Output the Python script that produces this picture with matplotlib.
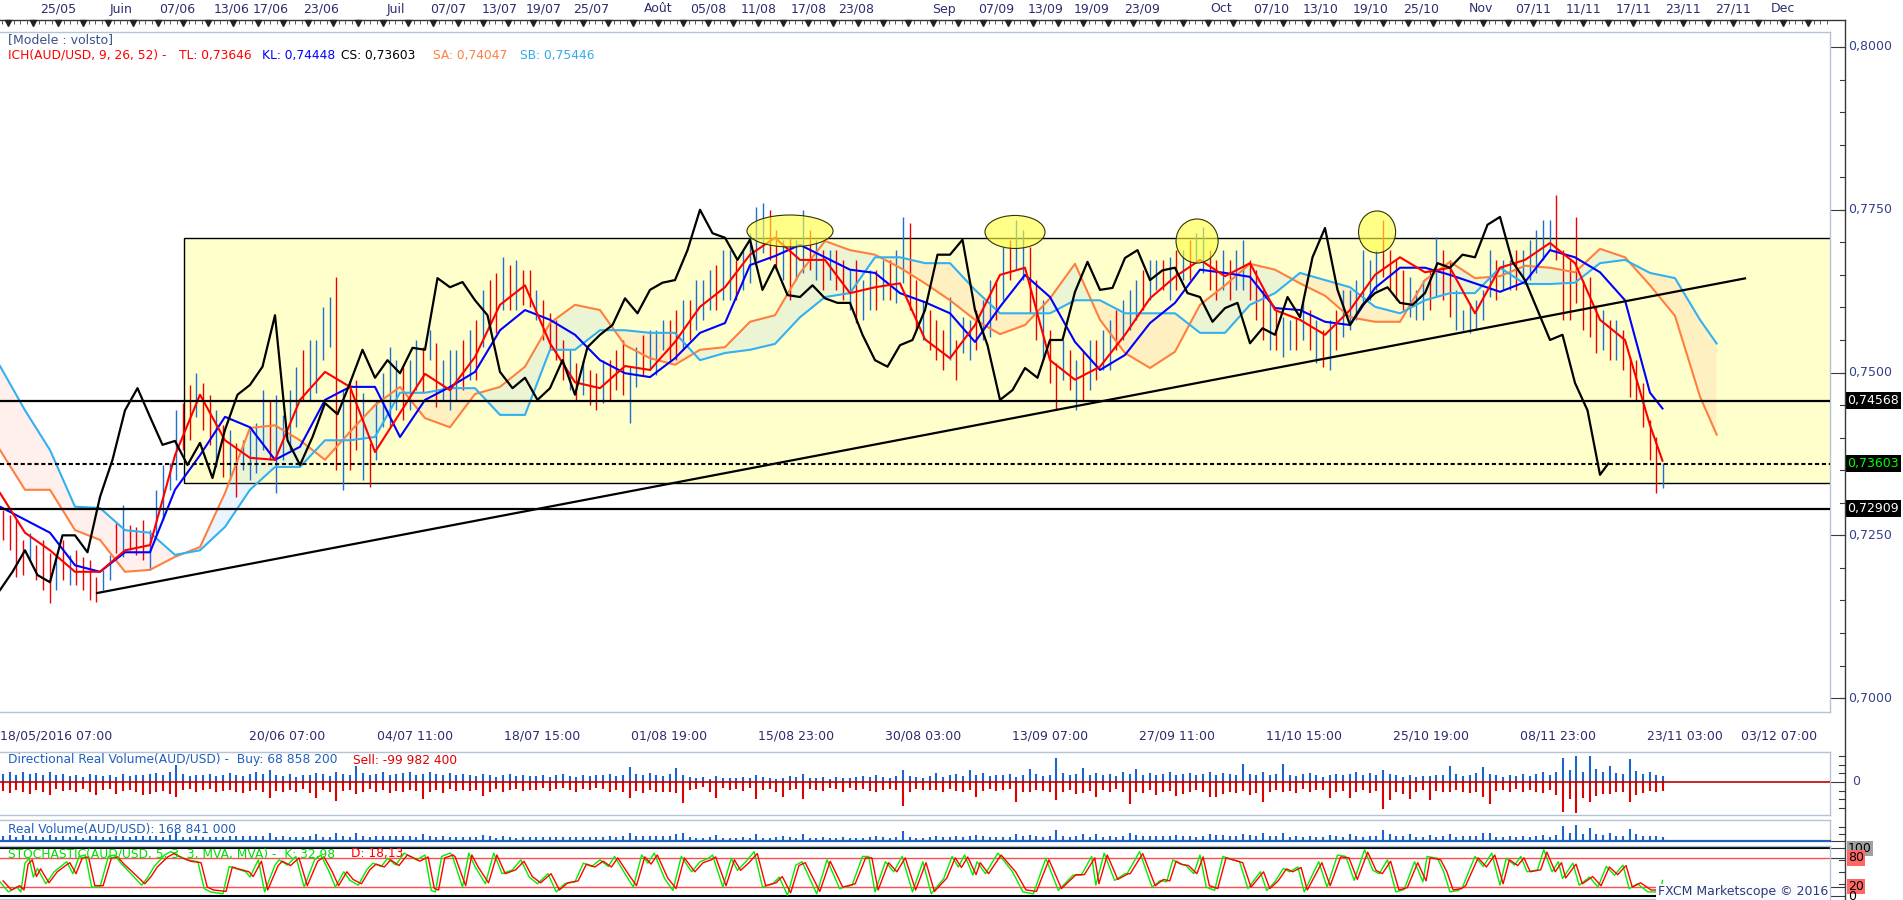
import numpy as np
import matplotlib
matplotlib.use("Agg")
import matplotlib.pyplot as plt
import matplotlib.transforms as mtransforms
from matplotlib.patches import Rectangle, Ellipse
from matplotlib.lines import Line2D
from matplotlib.collections import LineCollection

plt.rcParams['font.family'] = ['DejaVu Sans']

W, H = 1903, 900
PX_PER_BAR = 25.0 / 12.0          # one 4-hour bar on the time axis

# ------------------------------------------------------------------ data
LAST_BAR = 798                     # last 4h bar (23/11)
ICH_STEP = 12                      # sampling of Ichimoku lines (bars)
CS_STEP = 6                        # sampling of Chikou span (bars)

tenkan = [0.7315, 0.7254, 0.7227, 0.7194, 0.7194, 0.7227, 0.7235, 0.7373, 0.7466, 0.7396,
          0.7369, 0.7366, 0.7458, 0.7501, 0.7478, 0.7378, 0.7438, 0.7498, 0.7473, 0.7524,
          0.7604, 0.7634, 0.7545, 0.7485, 0.7476, 0.7510, 0.7504, 0.7547, 0.7601, 0.7631,
          0.7681, 0.7707, 0.7673, 0.7673, 0.7622, 0.7631, 0.7637, 0.7551, 0.7522, 0.7573,
          0.7650, 0.7661, 0.7519, 0.7489, 0.7509, 0.7558, 0.7614, 0.7647, 0.7673, 0.7648,
          0.7668, 0.7596, 0.7581, 0.7558, 0.7596, 0.7650, 0.7677, 0.7654, 0.7661, 0.7591,
          0.7661, 0.7673, 0.7699, 0.7668, 0.7581, 0.7550, 0.7419, 0.73646]

kijun = [0.7294, 0.7274, 0.7254, 0.7204, 0.7194, 0.7224, 0.7224, 0.7320, 0.7373, 0.7432,
         0.7416, 0.7366, 0.7386, 0.7458, 0.7478, 0.7478, 0.7401, 0.7458, 0.7478, 0.7501,
         0.7565, 0.7596, 0.7581, 0.7558, 0.7519, 0.7499, 0.7493, 0.7522, 0.7561, 0.7576,
         0.7665, 0.7679, 0.7696, 0.7677, 0.7658, 0.7653, 0.7622, 0.7608, 0.7591, 0.7547,
         0.7601, 0.7650, 0.7616, 0.7547, 0.7504, 0.7527, 0.7576, 0.7607, 0.7658, 0.7653,
         0.7647, 0.7599, 0.7596, 0.7578, 0.7573, 0.7630, 0.7661, 0.7661, 0.7650, 0.7637,
         0.7624, 0.7639, 0.7688, 0.7677, 0.7654, 0.7611, 0.7469, 0.74448]

senkou_a = [0.7381, 0.7320, 0.7320, 0.7258, 0.7243, 0.7194, 0.7197, 0.7217, 0.7232, 0.7315,
            0.7415, 0.7419, 0.7396, 0.7366, 0.7409, 0.7450, 0.7478, 0.7430, 0.7416, 0.7467,
            0.7478, 0.7509, 0.7576, 0.7604, 0.7596, 0.7542, 0.7522, 0.7512, 0.7535, 0.7539,
            0.7578, 0.7588, 0.7653, 0.7702, 0.7688, 0.7681, 0.7661, 0.7637, 0.7611, 0.7581,
            0.7559, 0.7573, 0.7614, 0.7667, 0.7581, 0.7530, 0.7507, 0.7532, 0.7604, 0.7634,
            0.7667, 0.7658, 0.7637, 0.7618, 0.7585, 0.7578, 0.7578, 0.7642, 0.7670, 0.7645,
            0.7648, 0.7664, 0.7661, 0.7654, 0.7690, 0.7677, 0.7634, 0.7587, 0.7463, 0.74047]

senkou_b = [0.7510, 0.7442, 0.7381, 0.7294, 0.7292, 0.7258, 0.7254, 0.7220, 0.7227, 0.7263,
            0.7320, 0.7355, 0.7355, 0.7396, 0.7396, 0.7401, 0.7469, 0.7469, 0.7476, 0.7476,
            0.7435, 0.7435, 0.7535, 0.7535, 0.7565, 0.7565, 0.7561, 0.7561, 0.7519, 0.7530,
            0.7535, 0.7544, 0.7585, 0.7616, 0.7622, 0.7677, 0.7677, 0.7668, 0.7668, 0.7627,
            0.7591, 0.7591, 0.7591, 0.7611, 0.7611, 0.7591, 0.7591, 0.7591, 0.7561, 0.7561,
            0.7604, 0.7622, 0.7653, 0.7642, 0.7631, 0.7601, 0.7591, 0.7611, 0.7622, 0.7622,
            0.7661, 0.7636, 0.7636, 0.7638, 0.7668, 0.7673, 0.7653, 0.7645, 0.7581, 0.75446]

chikou = [0.7166, 0.7194, 0.7227, 0.7189, 0.7178, 0.7250, 0.7250, 0.7224, 0.7309, 0.7366,
          0.7442, 0.7476, 0.7432, 0.7389, 0.7395, 0.7358, 0.7392, 0.7338, 0.7412, 0.7466,
          0.7481, 0.7509, 0.7588, 0.7396, 0.7358, 0.7401, 0.7453, 0.7436, 0.7484, 0.7535,
          0.7492, 0.7519, 0.7499, 0.7538, 0.7535, 0.7645, 0.7631, 0.7639, 0.7611, 0.7588,
          0.7501, 0.7476, 0.7492, 0.7458, 0.7476, 0.7519, 0.7466, 0.7539, 0.7558, 0.7573,
          0.7614, 0.7591, 0.7627, 0.7638, 0.7642, 0.7688, 0.7750, 0.7714, 0.7707, 0.7673,
          0.7704, 0.7627, 0.7665, 0.7619, 0.7616, 0.7634, 0.7614, 0.7607, 0.7607, 0.7558,
          0.7519, 0.7509, 0.7542, 0.7550, 0.7596, 0.7681, 0.7681, 0.7704, 0.7596, 0.7542,
          0.7458, 0.7473, 0.7507, 0.7492, 0.7550, 0.7550, 0.7624, 0.7670, 0.7627, 0.7630,
          0.7676, 0.7688, 0.7642, 0.7657, 0.7661, 0.7622, 0.7616, 0.7578, 0.7599, 0.7607,
          0.7545, 0.7568, 0.7558, 0.7616, 0.7585, 0.7677, 0.7722, 0.7627, 0.7573, 0.7604,
          0.7622, 0.7631, 0.7607, 0.7604, 0.7622, 0.7668, 0.7661, 0.7681, 0.7677, 0.7727,
          0.7739, 0.7670, 0.7642, 0.7596, 0.7550, 0.7558, 0.7484, 0.7442, 0.7343, 0.73603]

# candles (every ~3 bars): high, low, direction (b = up, r = down)
candle_high = [0.7289, 0.7281, 0.7274, 0.7243, 0.7254, 0.7235, 0.7243, 0.7223, 0.7220, 0.7243,
               0.7220, 0.7227, 0.7217, 0.7212, 0.7186, 0.7197, 0.7220, 0.7269, 0.7297, 0.7266,
               0.7263, 0.7274, 0.7258, 0.7320, 0.7358, 0.7361, 0.7442, 0.7453, 0.7481, 0.7499,
               0.7484, 0.7466, 0.7442, 0.7419, 0.7412, 0.7392, 0.7396, 0.7412, 0.7423, 0.7473,
               0.7458, 0.7466, 0.7435, 0.7473, 0.7509, 0.7535, 0.7550, 0.7550, 0.7601, 0.7616,
               0.7647, 0.7473, 0.7489, 0.7489, 0.7469, 0.7392, 0.7458, 0.7499, 0.7539, 0.7519,
               0.7509, 0.7519, 0.7550, 0.7539, 0.7565, 0.7545, 0.7519, 0.7535, 0.7535, 0.7550,
               0.7565, 0.7581, 0.7627, 0.7642, 0.7653, 0.7677, 0.7665, 0.7673, 0.7658, 0.7658,
               0.7627, 0.7611, 0.7591, 0.7581, 0.7550, 0.7535, 0.7515, 0.7519, 0.7504, 0.7499,
               0.7519, 0.7519, 0.7535, 0.7550, 0.7509, 0.7539, 0.7558, 0.7565, 0.7565, 0.7581,
               0.7581, 0.7596, 0.7611, 0.7611, 0.7642, 0.7642, 0.7658, 0.7665, 0.7688, 0.7688,
               0.7673, 0.7688, 0.7714, 0.7754, 0.7760, 0.7750, 0.7719, 0.7704, 0.7708, 0.7704,
               0.7750, 0.7719, 0.7704, 0.7688, 0.7688, 0.7688, 0.7673, 0.7658, 0.7673, 0.7642,
               0.7658, 0.7658, 0.7673, 0.7673, 0.7688, 0.7739, 0.7730, 0.7642, 0.7611, 0.7596,
               0.7581, 0.7565, 0.7616, 0.7550, 0.7585, 0.7581, 0.7596, 0.7611, 0.7642, 0.7642,
               0.7693, 0.7704, 0.7734, 0.7719, 0.7693, 0.7642, 0.7611, 0.7565, 0.7515, 0.7550,
               0.7535, 0.7519, 0.7535, 0.7550, 0.7550, 0.7565, 0.7581, 0.7596, 0.7611, 0.7627,
               0.7642, 0.7658, 0.7673, 0.7673, 0.7673, 0.7677, 0.7688, 0.7688, 0.7704, 0.7714,
               0.7723, 0.7688, 0.7673, 0.7688, 0.7673, 0.7688, 0.7704, 0.7673, 0.7658, 0.7627,
               0.7611, 0.7596, 0.7585, 0.7581, 0.7585, 0.7611, 0.7596, 0.7581, 0.7565, 0.7581,
               0.7596, 0.7627, 0.7627, 0.7642, 0.7688, 0.7673, 0.7688, 0.7734, 0.7688, 0.7673,
               0.7658, 0.7647, 0.7627, 0.7642, 0.7658, 0.7708, 0.7688, 0.7673, 0.7627, 0.7596,
               0.7607, 0.7611, 0.7627, 0.7688, 0.7673, 0.7673, 0.7673, 0.7688, 0.7688, 0.7704,
               0.7719, 0.7734, 0.7734, 0.7773, 0.7688, 0.7673, 0.7739, 0.7642, 0.7647, 0.7601,
               0.7596, 0.7581, 0.7581, 0.7565, 0.7524, 0.7519, 0.7484, 0.7427, 0.7401, 0.7361]

candle_low = [0.7243, 0.7227, 0.7186, 0.7189, 0.7212, 0.7181, 0.7166, 0.7146, 0.7166, 0.7181,
              0.7174, 0.7174, 0.7166, 0.7151, 0.7148, 0.7166, 0.7181, 0.7223, 0.7217, 0.7227,
              0.7220, 0.7212, 0.7197, 0.7250, 0.7274, 0.7320, 0.7335, 0.7381, 0.7396, 0.7432,
              0.7412, 0.7389, 0.7355, 0.7340, 0.7335, 0.7309, 0.7350, 0.7335, 0.7346, 0.7381,
              0.7366, 0.7315, 0.7366, 0.7381, 0.7416, 0.7458, 0.7458, 0.7469, 0.7519, 0.7539,
              0.7350, 0.7320, 0.7350, 0.7381, 0.7335, 0.7324, 0.7366, 0.7416, 0.7416, 0.7442,
              0.7427, 0.7442, 0.7473, 0.7469, 0.7519, 0.7447, 0.7458, 0.7442, 0.7458, 0.7473,
              0.7489, 0.7489, 0.7539, 0.7565, 0.7561, 0.7596, 0.7596, 0.7596, 0.7604, 0.7601,
              0.7581, 0.7550, 0.7535, 0.7519, 0.7489, 0.7473, 0.7458, 0.7466, 0.7450, 0.7442,
              0.7453, 0.7458, 0.7473, 0.7466, 0.7422, 0.7478, 0.7496, 0.7504, 0.7496, 0.7535,
              0.7519, 0.7519, 0.7535, 0.7550, 0.7565, 0.7581, 0.7596, 0.7596, 0.7611, 0.7611,
              0.7611, 0.7627, 0.7637, 0.7673, 0.7684, 0.7673, 0.7658, 0.7642, 0.7611, 0.7642,
              0.7653, 0.7658, 0.7642, 0.7627, 0.7642, 0.7627, 0.7611, 0.7596, 0.7576, 0.7581,
              0.7596, 0.7596, 0.7611, 0.7611, 0.7607, 0.7637, 0.7596, 0.7565, 0.7550, 0.7535,
              0.7519, 0.7504, 0.7519, 0.7489, 0.7530, 0.7519, 0.7535, 0.7550, 0.7554, 0.7581,
              0.7611, 0.7642, 0.7658, 0.7642, 0.7591, 0.7550, 0.7519, 0.7484, 0.7442, 0.7489,
              0.7473, 0.7442, 0.7458, 0.7473, 0.7489, 0.7504, 0.7504, 0.7535, 0.7550, 0.7565,
              0.7581, 0.7596, 0.7611, 0.7627, 0.7627, 0.7611, 0.7627, 0.7642, 0.7642, 0.7668,
              0.7653, 0.7627, 0.7611, 0.7627, 0.7611, 0.7627, 0.7627, 0.7611, 0.7581, 0.7550,
              0.7535, 0.7535, 0.7524, 0.7535, 0.7535, 0.7550, 0.7535, 0.7515, 0.7509, 0.7504,
              0.7535, 0.7554, 0.7565, 0.7581, 0.7607, 0.7611, 0.7627, 0.7647, 0.7627, 0.7611,
              0.7596, 0.7585, 0.7581, 0.7581, 0.7596, 0.7616, 0.7611, 0.7585, 0.7565, 0.7565,
              0.7561, 0.7565, 0.7581, 0.7616, 0.7611, 0.7627, 0.7627, 0.7627, 0.7642, 0.7642,
              0.7653, 0.7673, 0.7688, 0.7673, 0.7581, 0.7581, 0.7607, 0.7565, 0.7554, 0.7530,
              0.7535, 0.7519, 0.7519, 0.7504, 0.7463, 0.7458, 0.7416, 0.7366, 0.7315, 0.7323]

candle_dir = ("rrrrbrrrbr" "brrrrbbrbr" "rrbbbbbrrb" "rrbrbrbbbb" "rbbbbrbbbb"
              "rbrrbrbbbb" "rbbrbrbbbr" "brbrrbrbrr" "brrrrbrbrr" "brrrbbrbbb"
              "rrbrbbbrbb" "rbbbbrrbrb" "brbrbrrbrb" "brbrbbrrbr" "rrbrbbrbbr"
              "brbbrrbrrb" "rbrbrbbrbb" "brbbrbrbrb" "brrbrbbrrr" "brbbrbrbrb"
              "rbbbbbbrrr" "rbbbrbrrbb" "bbbbrbbrbb" "bbbrrrrrrr" "brbrrrrrrb")

# directional real volume (millions): buy and sell per candle
vol_buy = [95, 110, 80, 120, 90, 100, 75, 115, 85, 95,
           70, 85, 60, 90, 75, 65, 80, 55, 95, 70,
           85, 75, 90, 100, 80, 110, 195, 90, 70, 85,
           75, 90, 65, 80, 100, 85, 70, 95, 110, 90,
           140, 80, 70, 95, 60, 85, 75, 105, 90, 70,
           115, 90, 80, 185, 100, 75, 90, 110, 80, 95,
           100, 120, 85, 90, 110, 95, 80, 100, 75, 90,
           80, 70, 95, 85, 60, 75, 90, 65, 80, 70,
           70, 85, 60, 75, 90, 65, 55, 80, 70, 85,
           80, 95, 70, 85, 170, 90, 75, 100, 85, 70,
           90, 160, 80, 60, 45, 55, 40, 65, 50, 45,
           50, 60, 45, 80, 55, 50, 40, 45, 70, 55,
           90, 50, 45, 55, 40, 60, 50, 45, 55, 65,
           55, 80, 60, 45, 70, 140, 65, 55, 50, 70,
           105, 60, 75, 90, 65, 140, 80, 100, 70, 85,
           75, 90, 60, 80, 150, 95, 70, 85, 275, 100,
           85, 90, 160, 75, 100, 80, 95, 70, 110, 90,
           150, 85, 100, 75, 95, 110, 80, 90, 105, 85,
           90, 115, 80, 100, 95, 85, 205, 90, 75, 110,
           80, 95, 205, 85, 70, 90, 100, 75, 60, 85,
           95, 75, 90, 115, 80, 100, 85, 140, 90, 75,
           60, 80, 55, 70, 65, 85, 75, 185, 90, 70,
           85, 100, 170, 90, 75, 60, 80, 70, 95, 65,
           90, 110, 80, 120, 275, 140, 300, 110, 300, 150,
           120, 185, 100, 95, 265, 130, 90, 110, 85, 68.9]

vol_sell = [100, 130, 90, 120, 140, 95, 110, 150, 85, 105,
            90, 120, 80, 110, 150, 95, 85, 140, 100, 90,
            110, 150, 135, 120, 100, 140, 175, 95, 85, 110,
            90, 80, 120, 105, 95, 115, 130, 100, 90, 120,
            185, 100, 120, 90, 110, 80, 130, 185, 95, 115,
            220, 100, 90, 140, 120, 85, 110, 95, 130, 100,
            110, 95, 100, 195, 115, 90, 125, 85, 100, 95,
            100, 90, 160, 110, 85, 120, 90, 80, 105, 95,
            90, 75, 100, 85, 70, 95, 110, 80, 90, 75,
            85, 110, 95, 120, 185, 100, 130, 95, 110, 120,
            120, 130, 240, 95, 80, 60, 110, 185, 75, 90,
            85, 100, 70, 195, 90, 80, 120, 175, 95, 85,
            195, 80, 90, 100, 70, 85, 110, 75, 90, 80,
            100, 115, 90, 85, 95, 275, 110, 80, 95, 90,
            95, 110, 80, 100, 120, 90, 175, 105, 85, 100,
            90, 85, 230, 110, 115, 95, 100, 120, 205, 110,
            95, 140, 130, 100, 175, 90, 110, 85, 120, 250,
            110, 130, 95, 150, 120, 100, 165, 140, 110, 95,
            120, 170, 175, 140, 110, 125, 105, 150, 130, 230,
            110, 95, 120, 100, 130, 85, 110, 90, 95, 185,
            120, 100, 185, 110, 95, 130, 105, 310, 205, 120,
            140, 195, 110, 90, 205, 100, 120, 110, 95, 120,
            130, 110, 170, 250, 100, 95, 120, 85, 110, 90,
            115, 130, 95, 150, 345, 200, 355, 180, 230, 160,
            140, 140, 120, 110, 230, 150, 130, 100, 115, 100.0]

# stochastic: bar index, %K, %D (the %D line trails %K by ~1.5 bars)
STOCH_D_LAG = 1.5
stoch_bar = [0, 4, 8, 10, 12, 14, 16, 18, 22, 26,
             30, 32, 35, 38, 41, 44, 48, 52, 55, 58,
             62, 68, 71, 74, 79, 82, 86, 90, 95, 98,
             101, 107, 110, 113, 118, 120, 124, 127, 132, 134,
             138, 142, 146, 151, 154, 158, 161, 165, 168, 172,
             176, 179, 183, 186, 190, 194, 197, 200, 204, 207,
             209, 212, 216, 217, 222, 225, 228, 233, 237, 241,
             246, 250, 254, 258, 263, 267, 271, 276, 280, 284,
             288, 292, 295, 300, 304, 308, 311, 314, 319, 323,
             327, 332, 336, 340, 342, 347, 351, 354, 358, 362,
             366, 371, 374, 378, 382, 385, 392, 397, 403, 409,
             414, 417, 420, 425, 429, 433, 438, 443, 447, 453,
             457, 460, 463, 467, 469, 473, 479, 486, 491, 496,
             502, 508, 515, 519, 524, 526, 530, 535, 540, 541,
             547, 553, 557, 560, 563, 566, 569, 573, 576, 579,
             583, 587, 595, 599, 605, 608, 612, 616, 619, 623,
             626, 633, 637, 642, 646, 650, 655, 659, 662, 666,
             670, 674, 679, 683, 685, 690, 693, 696, 700, 702,
             708, 712, 716, 720, 723, 727, 730, 733, 738, 741,
             745, 748, 750, 755, 758, 763, 767, 771, 775, 779,
             782, 786, 791, 797, 798]
stoch_k = [30, 9, 19, 9, 69, 79, 40, 58, 26, 51,
           65, 72, 47, 83, 86, 19, 19, 83, 86, 69,
           51, 23, 40, 62, 86, 93, 83, 76, 72, 16,
           9, 5, 62, 58, 51, 40, 76, 9, 65, 76,
           65, 83, 19, 76, 86, 51, 19, 51, 33, 23,
           55, 69, 62, 79, 65, 90, 83, 76, 86, 12,
           9, 83, 90, 86, 19, 90, 62, 26, 90, 47,
           55, 76, 40, 26, 47, 9, 26, 30, 69, 62,
           76, 62, 83, 47, 19, 86, 69, 90, 37, 12,
           83, 51, 72, 79, 86, 19, 79, 54, 72, 93,
           19, 26, 40, 2, 65, 72, 5, 76, 16, 23,
           83, 83, 9, 72, 51, 83, 9, 72, 5, 37,
           83, 61, 86, 44, 72, 47, 90, 51, 9, 5,
           79, 12, 44, 44, 83, 23, 90, 33, 47, 47,
           93, 19, 33, 30, 76, 68, 65, 47, 86, 19,
           12, 83, 72, 16, 51, 12, 30, 58, 51, 61,
           9, 72, 19, 86, 83, 33, 97, 54, 47, 76,
           9, 14, 72, 30, 83, 79, 51, 9, 12, 19,
           83, 62, 90, 23, 79, 65, 83, 51, 55, 97,
           51, 72, 37, 69, 23, 40, 19, 62, 44, 65,
           16, 26, 9, 9, 32.98]
stoch_d = [32, 13, 22, 13, 67, 76, 41, 57, 28, 51,
           64, 70, 47, 80, 82, 22, 22, 80, 82, 67,
           51, 26, 41, 61, 82, 89, 80, 73, 70, 19,
           13, 10, 61, 57, 51, 41, 73, 13, 64, 73,
           64, 80, 22, 73, 82, 51, 22, 51, 35, 26,
           55, 67, 61, 76, 64, 86, 80, 73, 82, 16,
           13, 80, 86, 82, 22, 86, 61, 28, 86, 47,
           55, 73, 41, 28, 47, 13, 28, 32, 67, 61,
           73, 61, 80, 47, 22, 82, 67, 86, 38, 16,
           80, 51, 70, 76, 82, 22, 76, 54, 70, 89,
           22, 28, 41, 7, 64, 70, 10, 73, 19, 26,
           80, 80, 13, 70, 51, 80, 13, 70, 10, 38,
           80, 60, 82, 45, 70, 47, 86, 51, 13, 10,
           76, 16, 45, 45, 80, 26, 86, 35, 47, 47,
           89, 22, 35, 32, 73, 66, 64, 47, 82, 22,
           16, 80, 70, 19, 51, 16, 32, 57, 51, 60,
           13, 70, 22, 82, 80, 35, 92, 54, 47, 73,
           13, 18, 70, 32, 80, 76, 51, 13, 16, 22,
           80, 61, 86, 26, 76, 64, 80, 51, 55, 92,
           51, 70, 38, 67, 26, 41, 22, 61, 45, 64,
           19, 28, 13, 13, 18.13]

# drawn annotations (bar index, price)
box_left, box_top, box_bottom = 88.3, 0.77059, 0.73304
h_lines = [0.74568, 0.72909]
close_line = 0.73603
trend_start = (46.6, 0.71614)
trend_end = (837.6, 0.76446)
ellipses = [(379.2, 0.77174, 41.3, 0.00491),
            (487.2, 0.77159, 28.8, 0.00507),
            (574.6, 0.77020, 20.2, 0.00676),
            (661.0, 0.77159, 17.8, 0.00645)]

top_labels = ['25/05', 'Juin', '07/06', '13/06', '17/06', '23/06', 'Juil', '07/07', '13/07',
              '19/07', '25/07', 'Août', '05/08', '11/08', '17/08', '23/08', 'Sep', '07/09',
              '13/09', '19/09', '23/09', 'Oct', '07/10', '13/10', '19/10', '25/10', 'Nov',
              '07/11', '11/11', '17/11', '23/11', '27/11', 'Dec']
top_label_bars = [28, 58, 85, 111, 130, 154, 190, 215, 240, 261, 284, 316, 340, 364, 388,
                  411, 453, 478, 502, 524, 548, 586, 610, 634, 658, 682, 711, 736, 760, 784,
                  808, 832, 856]
bottom_labels = ['18/05/2016 07:00', '20/06 07:00', '04/07 11:00', '18/07 15:00',
                 '01/08 19:00', '15/08 23:00', '30/08 03:00', '13/09 07:00', '27/09 11:00',
                 '11/10 15:00', '25/10 19:00', '08/11 23:00', '23/11 03:00', '03/12 07:00']
bottom_label_bars = [0, 138, 199, 260, 321, 382, 443, 504, 565, 626, 687, 748, 809, 854]

# ------------------------------------------------------------------ figure
FS = 9.0
fig = plt.figure(figsize=(W / 100, H / 100), dpi=100)
fig.patch.set_facecolor('white')
pix = mtransforms.Affine2D().scale(1.0 / W, -1.0 / H).translate(0, 1) + fig.transFigure

XMAX = 1830 / PX_PER_BAR
PANEL_R = 1830
AXIS_X = 1845
FRAME = '#B4C3D6'
AXTXT = '#34408A'


def make_ax(top, bottom):
    a = fig.add_axes([0, 1 - bottom / H, PANEL_R / W, (bottom - top) / H])
    a.set_xlim(0, XMAX)
    a.set_autoscale_on(False)
    a.set_xticks([])
    a.set_yticks([])
    a.set_facecolor('white')
    for s in a.spines.values():
        s.set_color(FRAME)
        s.set_linewidth(1.0)
    a.spines['left'].set_visible(False)
    return a


ax = make_ax(32, 712)
ax.set_ylim(0.69787, 0.80230)
axd = make_ax(752, 815)
axd.set_ylim(-380, 345)
axr = make_ax(820, 841)
axr.set_ylim(0, 880)
axs = make_ax(846, 899)
axs.set_ylim(-5.8, 104.8)

# ---------------- main panel
ich_x = np.r_[np.arange(len(tenkan) - 1) * ICH_STEP, LAST_BAR]
sen_x = np.r_[np.arange(len(senkou_a) - 1) * ICH_STEP, LAST_BAR + 26]
cs_x = np.r_[np.arange(len(chikou) - 1) * CS_STEP, LAST_BAR - 26]
candle_x = 1.44 + 3.2 * np.arange(len(candle_high))

ax.add_patch(Rectangle((box_left, box_bottom), XMAX + 5 - box_left, box_top - box_bottom,
                       facecolor='#FFFFCC', edgecolor='black', lw=1.0, zorder=0.5))

sa = np.array(senkou_a)
sb = np.array(senkou_b)
ax.fill_between(sen_x, sa, sb, where=sa >= sb, interpolate=True,
                color='#8EC8FF', alpha=0.17, lw=0, zorder=1)
ax.fill_between(sen_x, sa, sb, where=sa < sb, interpolate=True,
                color='#FF9E8A', alpha=0.15, lw=0, zorder=1)

ccol = ['#1E6FD0' if c == 'b' else '#EE0000' for c in candle_dir]
ax.vlines(candle_x, candle_low, candle_high, colors=ccol, lw=1.0, zorder=2)

ax.plot(sen_x, senkou_a, color='#FF7F3F', lw=1.5, zorder=4)
ax.plot(sen_x, senkou_b, color='#33B0F0', lw=1.5, zorder=4)
ax.plot(ich_x, kijun, color='#0000FF', lw=1.5, zorder=4)
ax.plot(ich_x, tenkan, color='#FF0000', lw=1.5, zorder=4)
ax.plot(cs_x, chikou, color='black', lw=1.6, zorder=4)

for v in h_lines:
    ax.axhline(v, color='black', lw=1.6, zorder=5)
ax.axhline(close_line, color='black', lw=1.5, linestyle=(0, (2.0, 1.3)), zorder=5)
ax.plot([trend_start[0], trend_end[0]], [trend_start[1], trend_end[1]],
        color='black', lw=1.6, zorder=5)
for cx, cy, ew, eh in ellipses:
    ax.add_patch(Ellipse((cx, cy), ew, eh, facecolor=(1, 1, 0.25, 0.62),
                         edgecolor='#333300', lw=0.8, zorder=6))

# legend texts
fig.text(8, 40, '[Modele : volsto]', transform=pix, color='#3B4F8A', fontsize=FS, va='center')
for x, s, c in [(8, 'ICH(AUD/USD, 9, 26, 52) -', '#FF0000'), (179, 'TL: 0,73646', '#FF0000'),
                (262, 'KL: 0,74448', '#0000FF'), (341, 'CS: 0,73603', 'black'),
                (433, 'SA: 0,74047', '#FF7F3F'), (520, 'SB: 0,75446', '#33AAEE')]:
    fig.text(x, 55, s, transform=pix, color=c, fontsize=8.8, va='center')

# ---------------- top date strip
bx = mtransforms.blended_transform_factory(ax.transData, pix)
fig.add_artist(Line2D([0, AXIS_X], [19.5, 19.5], transform=pix, color='#333333', lw=1.0))
minor = np.arange(0.8, XMAX, 3)
fig.add_artist(LineCollection([[(m, 20), (m, 24)] for m in minor], transform=bx,
                              colors='#555555', linewidths=0.7))
tri = np.arange(3.8, XMAX, 12)
fig.add_artist(Line2D(tri, np.full(len(tri), 23.0), transform=bx, ls='none', marker='v',
                      markersize=4.6, color='#222222'))
for b, s in zip(top_label_bars, top_labels):
    fig.text(b, 9, s, transform=bx, ha='center', va='center', fontsize=FS, color='#2B2D6E')

# bottom date labels
for b, s in zip(bottom_label_bars, bottom_labels):
    fig.text(b, 736, s, transform=bx, ha='left' if b == 0 else 'center', va='center',
             fontsize=FS, color='#2B2D6E')

# ---------------- right axis
fig.add_artist(Line2D([AXIS_X, AXIS_X], [20, 900], transform=pix, color='#3A3A3A', lw=1.0))


def rticks(a, majors, minors, major_len=15, minor_len=5):
    t = mtransforms.blended_transform_factory(pix, a.transData)
    for v in minors:
        a.add_artist(Line2D([AXIS_X - minor_len, AXIS_X], [v, v], transform=t,
                            color='#3A3A3A', lw=0.8, clip_on=False))
    for v in majors:
        a.add_artist(Line2D([AXIS_X - major_len, AXIS_X], [v, v], transform=t,
                            color='#3A3A3A', lw=0.8, clip_on=False))
    return t


tm = rticks(ax, np.arange(0.70, 0.8001, 0.025), np.arange(0.70, 0.8001, 0.005))
for v in np.arange(0.70, 0.8001, 0.025):
    ax.text(1848, v, f'{v:.4f}'.replace('.', ','), transform=tm, fontsize=FS,
            color=AXTXT, va='center', ha='left', clip_on=False)
for v, fg in [(h_lines[0], 'white'), (close_line, '#00FF00'), (h_lines[1], 'white')]:
    ax.text(1847, v, f'{v:.5f}'.replace('.', ','), transform=tm, fontsize=FS, color=fg,
            va='center', ha='left', clip_on=False,
            bbox=dict(boxstyle='square,pad=0.15', facecolor='black', edgecolor='none'))

# ---------------- directional real volume
vb = np.array(vol_buy)
vs = np.array(vol_sell)
axd.vlines(candle_x, 0, vb, colors='#1F64C8', lw=1.5, zorder=2)
axd.vlines(candle_x, -vs, 0, colors='#E00000', lw=1.5, zorder=2)
axd.axhline(0, color='#C00000', lw=1.2, zorder=3)
td = rticks(axd, [0], [-300, -200, -100, 100, 200, 300], minor_len=6)
axd.text(1852, 0, '0', transform=td, fontsize=FS, color=AXTXT, va='center', clip_on=False)
fig.text(8, 760, 'Directional Real Volume(AUD/USD) -  Buy: 68 858 200', transform=pix,
         fontsize=8.8, color='#1F5FBF', va='center')
fig.text(353, 760, 'Sell: -99 982 400', transform=pix, fontsize=8.8, color='#E00000', va='center')

# ---------------- real volume
axr.vlines(candle_x, 0, vb + vs, colors='#1F64C8', lw=1.5, zorder=2)
axr.spines['bottom'].set_color('#1F5FBF')
axr.spines['bottom'].set_linewidth(1.6)
tr = rticks(axr, [0], [300, 600], minor_len=6)
fig.text(8, 829, 'Real Volume(AUD/USD): 168 841 000', transform=pix, fontsize=8.8,
         color='#1F5FBF', va='center')

# ---------------- stochastic
for v in (100, 0):
    axs.axhline(v, color='black', lw=1.5, zorder=1)
for v in (80, 20):
    axs.axhline(v, color='#FF4D4D', lw=1.0, zorder=1)
axs.plot(stoch_bar, stoch_k, color='#00EE00', lw=1.0, zorder=3)
axs.plot(np.array(stoch_bar) + STOCH_D_LAG, stoch_d, color='#FF0000', lw=1.0, zorder=3)
ts = rticks(axs, [100, 80, 20, 0], [75, 50, 25], minor_len=6)
axs.text(1848, 100, '100', transform=ts, fontsize=FS, color='black', va='center',
         clip_on=False, bbox=dict(boxstyle='square,pad=0.1', facecolor='#A0A0A0', edgecolor='none'))
axs.text(1848, 80, '80', transform=ts, fontsize=FS, color='black', va='center',
         clip_on=False, bbox=dict(boxstyle='square,pad=0.1', facecolor='#FF6666', edgecolor='none'))
axs.text(1848, 20, '20', transform=ts, fontsize=FS, color='black', va='center',
         clip_on=False, bbox=dict(boxstyle='square,pad=0.1', facecolor='#FF6666', edgecolor='none'))
axs.text(1848, 0, '0', transform=ts, fontsize=FS, color='black', va='center', clip_on=False)
fig.text(8, 854, 'STOCHASTIC(AUD/USD, 5, 3, 3, MVA, MVA) -  K: 32,98', transform=pix,
         fontsize=8.8, color='#00DD00', va='center')
fig.text(351, 854, 'D: 18,13', transform=pix, fontsize=8.8, color='#FF0000', va='center')
fig.text(1828, 892, 'FXCM Marketscope © 2016', transform=pix, fontsize=9.0, color='#2E3A78',
         va='center', ha='right',
         bbox=dict(boxstyle='square,pad=0.12', facecolor='#FAFCFF', edgecolor='none'))

fig.savefig('out.png', dpi=100, facecolor='white')
